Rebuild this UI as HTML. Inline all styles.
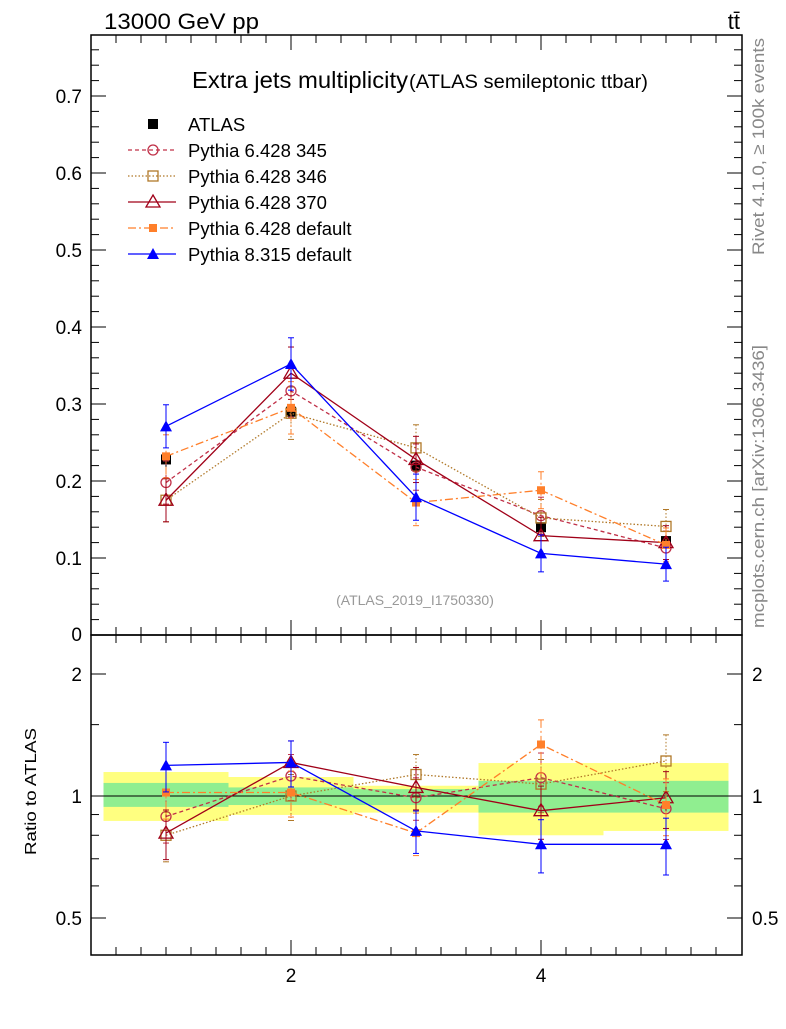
<!DOCTYPE html>
<html><head><meta charset="utf-8"><style>
body{margin:0;background:#fff;}
svg text{font-family:"Liberation Sans",sans-serif;}
</style></head><body>
<svg id="c" width="786" height="1024" xmlns="http://www.w3.org/2000/svg"></svg>
<script>
const xs=[1,2,3,4,5];
const atlas=[0.228,0.290,0.220,0.140,0.122];
const atlasErr=[0.010,0.010,0.008,0.006,0.006];
const p345=[0.198,0.317,0.218,0.155,0.113];
const p346=[0.175,0.288,0.243,0.152,0.141];
const p370=[0.175,0.340,0.228,0.129,0.120];
const p6def=[0.232,0.295,0.172,0.188,0.117];
const p8=[0.271,0.352,0.179,0.106,0.092];
const errs=[0.028,0.034,0.030,0.024,0.022];
const r345=[0.89,1.12,0.99,1.11,0.93];
const r346=[0.80,1.00,1.13,1.07,1.22];
const r370=[0.81,1.21,1.05,0.92,0.99];
const r6def=[1.02,1.02,0.81,1.34,0.95];
const r8=[1.19,1.21,0.82,0.76,0.76];
const rErr=[0.14,0.13,0.12,0.15,0.16];
const yelUp=[1.146,1.114,1.06,1.206,1.206];
const yelDn=[0.868,0.898,0.91,0.80,0.82];
const grnUp=[1.077,1.05,1.04,1.09,1.09];
const grnDn=[0.94,0.95,0.95,0.91,0.91];
const mainTicks=[0.1,0.2,0.3,0.4,0.5,0.6,0.7];
const ratioTicks=[0.5,1,2];

const S=document.getElementById('c');const NS='http://www.w3.org/2000/svg';
function el(t,a,p){const e=document.createElementNS(NS,t);for(const k in a)e.setAttribute(k,a[k]);(p||S).appendChild(e);return e;}
const L=91,R=742,T=35,M=635,B=955;
const X=v=>166+(v-1)*125;
const Y=v=>635-v*770;
const YR=v=>796-Math.log2(v)*122;

for(let i=0;i<xs.length;i++){
 const x0=X(xs[i]-0.5),x1=X(xs[i]+0.5);
 let r=el('rect',{x:x0,y:YR(yelUp[i]),width:x1-x0,height:YR(yelDn[i])-YR(yelUp[i]),fill:'#ffff80'});
 
 r=el('rect',{x:x0,y:YR(grnUp[i]),width:x1-x0,height:YR(grnDn[i])-YR(grnUp[i]),fill:'#90ee90'});
 
}
el('line',{x1:L,x2:R,y1:YR(1),y2:YR(1),stroke:'#000','stroke-width':1});

let f=el('rect',{x:L,y:T,width:R-L,height:M-T,fill:'none',stroke:'#000','stroke-width':1.5});

f=el('rect',{x:L,y:M,width:R-L,height:B-M,fill:'none',stroke:'#000','stroke-width':1.5});


for(let v=0;v<=0.78;v+=0.02){const y=Y(v);const maj=Math.abs(v*10-Math.round(v*10))<1e-6;const len=maj?15:8;
 el('line',{x1:L,x2:L+len,y1:y,y2:y,stroke:'#000'});el('line',{x1:R,x2:R-len,y1:y,y2:y,stroke:'#000'});}
mainTicks.forEach(v=>{const t=el('text',{x:82,y:Y(v)+7,'font-size':19,'text-anchor':'end'});t.textContent=v.toFixed(1);
 });
{const t=el('text',{x:82,y:641,'font-size':19,'text-anchor':'end'});t.textContent='0';}
[0.5,0.6,0.7,0.8,0.9,1,1.5,2].forEach(v=>{const y=YR(v);const maj=ratioTicks.includes(v);const len=maj?15:8;
 el('line',{x1:L,x2:L+len,y1:y,y2:y,stroke:'#000'});el('line',{x1:R,x2:R-len,y1:y,y2:y,stroke:'#000'});});
ratioTicks.forEach(v=>{let t=el('text',{x:82,y:YR(v)+7,'font-size':19,'text-anchor':'end'});t.textContent=String(v);
 
 t=el('text',{x:752,y:YR(v)+7,'font-size':19});t.textContent=String(v);
 });
for(let v=0.4;v<=5.6;v+=0.2){const x=X(v);const maj=Math.abs(v/2-Math.round(v/2))<1e-6;const len=maj?15:8;
 el('line',{x1:x,x2:x,y1:B,y2:B-len,stroke:'#000'});el('line',{x1:x,x2:x,y1:M,y2:M-len,stroke:'#000'});
 el('line',{x1:x,x2:x,y1:M,y2:M+len,stroke:'#000'});el('line',{x1:x,x2:x,y1:T,y2:T+len,stroke:'#000'});}
[2,4].forEach(v=>{const t=el('text',{x:X(v),y:982,'font-size':19,'text-anchor':'middle'});t.textContent=v;
 });

function marker(g,type,x,y,c){
 if(type==='sq')el('rect',{x:x-5,y:y-5,width:10,height:10,fill:c},g);
 else if(type==='osq')el('rect',{x:x-5,y:y-5,width:10,height:10,fill:'none',stroke:c,'stroke-width':1.3},g);
 else if(type==='oc')el('circle',{cx:x,cy:y,r:5,fill:'none',stroke:c,'stroke-width':1.3},g);
 else if(type==='otri')el('path',{d:`M${x},${y-7}L${x+7},${y+5}L${x-7},${y+5}Z`,fill:'none',stroke:c,'stroke-width':1.3},g);
 else if(type==='fsq')el('rect',{x:x-4,y:y-4,width:8,height:8,fill:c},g);
 else el('path',{d:`M${x},${y-6}L${x+6},${y+5}L${x-6},${y+5}Z`,fill:c},g);
}
const series=[
 {n:'pythia-6428-345',c:'#c03048',d:'4,3',m:'oc',v:p345,r:r345,lab:'Pythia 6.428 345'},
 {n:'pythia-6428-346',c:'#b07828',d:'1.5,2',m:'osq',v:p346,r:r346,lab:'Pythia 6.428 346'},
 {n:'pythia-6428-370',c:'#a00018',d:'',m:'otri',v:p370,r:r370,lab:'Pythia 6.428 370'},
 {n:'pythia-6428-default',c:'#ff7f2a',d:'8,3,2,3',m:'fsq',v:p6def,r:r6def,lab:'Pythia 6.428 default'},
 {n:'pythia-8315-default',c:'#0000ff',d:'',m:'ftri',v:p8,r:r8,lab:'Pythia 8.315 default'}];
{const g=el('g',{});
 xs.forEach((x,i)=>{el('line',{x1:X(x),x2:X(x),y1:Y(atlas[i]+atlasErr[i]),y2:Y(atlas[i]-atlasErr[i]),stroke:'#000'},g);marker(g,'sq',X(x),Y(atlas[i]),'#000');});}
series.forEach(s=>{
 [[s.v,Y,errs.map((e,i)=>[s.v[i]+e,s.v[i]-e])],[s.r,YR,rErr.map((e,i)=>[s.r[i]*(1+e),s.r[i]*(1-e)])]].forEach(([vals,fy,eb],k)=>{
  const g=el('g',{});
  el('polyline',{points:xs.map((x,i)=>X(x)+','+fy(vals[i])).join(' '),fill:'none',stroke:s.c,'stroke-width':1.3,'stroke-dasharray':s.d},g);
  xs.forEach((x,i)=>{el('line',{x1:X(x),x2:X(x),y1:fy(eb[i][0]),y2:fy(eb[i][1]),stroke:s.c,'stroke-dasharray':s.d},g);
   el('line',{x1:X(x)-3,x2:X(x)+3,y1:fy(eb[i][0]),y2:fy(eb[i][0]),stroke:s.c},g);
   el('line',{x1:X(x)-3,x2:X(x)+3,y1:fy(eb[i][1]),y2:fy(eb[i][1]),stroke:s.c},g);
   marker(g,s.m,X(x),fy(vals[i]),s.c);});
 });
});
{const g=el('g',{});
 marker(g,'sq',153,124,'#000');let t=el('text',{x:188,y:131,'font-size':18.5},g);t.textContent='ATLAS';
 series.forEach((s,i)=>{const y=150+i*26;
  el('line',{x1:128,x2:176,y1:y,y2:y,stroke:s.c,'stroke-width':1.3,'stroke-dasharray':s.d},g);marker(g,s.m,153,y,s.c);
  const tt=el('text',{x:188,y:y+7,'font-size':18.5},g);tt.textContent=s.lab;});}
</script>
<svg width="786" height="1024" style="position:absolute;left:0;top:0" xmlns="http://www.w3.org/2000/svg">
<text x="104" y="29" font-size="22" textLength="155" lengthAdjust="spacingAndGlyphs">13000 GeV pp</text>
<text x="740" y="29" font-size="22" text-anchor="end">tt̄</text>
<text x="192" y="88" font-size="23" textLength="216" lengthAdjust="spacingAndGlyphs">Extra jets multiplicity</text>
<text x="409" y="88" font-size="19" textLength="239" lengthAdjust="spacingAndGlyphs">(ATLAS semileptonic ttbar)</text>
<text x="415" y="605" font-size="14" fill="#999" text-anchor="middle">(ATLAS_2019_I1750330)</text>
<text transform="translate(764,255) rotate(-90)" font-size="17" fill="#888" textLength="217" lengthAdjust="spacingAndGlyphs">Rivet 4.1.0, ≥ 100k events</text>
<text transform="translate(764,628) rotate(-90)" font-size="17" fill="#888" textLength="283" lengthAdjust="spacingAndGlyphs">mcplots.cern.ch [arXiv:1306.3436]</text>
<text transform="translate(36,855) rotate(-90)" font-size="16" textLength="127" lengthAdjust="spacingAndGlyphs">Ratio to ATLAS</text>
</svg>
</body></html>
